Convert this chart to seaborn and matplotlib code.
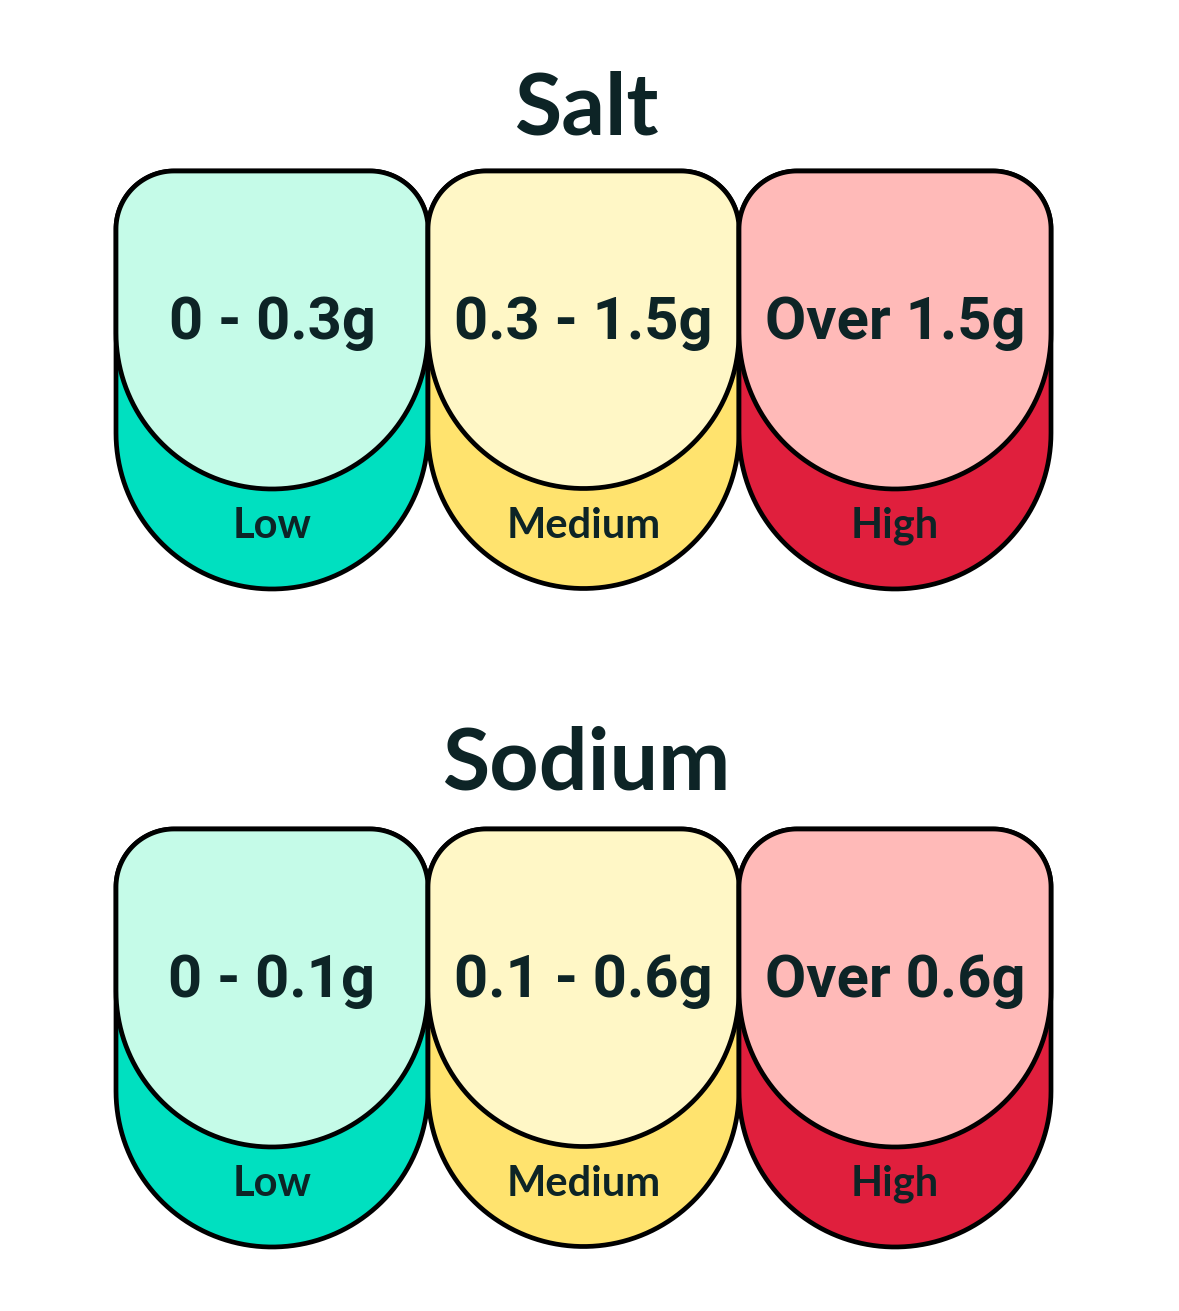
import numpy as np
import matplotlib
matplotlib.use("Agg")
import matplotlib.pyplot as plt
import seaborn as sns
from matplotlib.patches import Polygon

sns.set_theme(style="white")
plt.rcParams['font.family'] = ['Roboto', 'DejaVu Sans']

panels = ["Salt", "Sodium"]
levels = ["Low", "Medium", "High"]
salt_ranges = ["0 - 0.3g", "0.3 - 1.5g", "Over 1.5g"]
sodium_ranges = ["0 - 0.1g", "0.1 - 0.6g", "Over 0.6g"]
dark_colors = ["#00E0C0", "#FFE36E", "#E01F3D"]
light_colors = ["#C5FBE8", "#FFF7C6", "#FFBAB8"]
ink = "#0D2426"

W, H = 1179, 1311
fig = plt.figure(figsize=(W/100, H/100), dpi=100)
ax = fig.add_axes([0, 0, 1, 1])
ax.set_xlim(0, W); ax.set_ylim(H, 0); ax.axis("off")

def shape(x0, x1, top, cy, R=58, n=40):
    pts = []
    t = np.linspace(np.pi, 1.5*np.pi, n)
    pts += list(zip(x0+R+R*np.cos(t), top+R+R*np.sin(t)))
    t = np.linspace(-0.5*np.pi, 0, n)
    pts += list(zip(x1-R+R*np.cos(t), top+R+R*np.sin(t)))
    r = (x1-x0)/2; cx = (x0+x1)/2
    t = np.linspace(0, np.pi, 2*n)
    pts += list(zip(cx+r*np.cos(t), cy+r*np.sin(t)))
    return np.array(pts)

xs = [116, 428, 739, 1051]
layout = [(110, 171, salt_ranges), (765, 829, sodium_ranges)]
for (title_y, top, ranges), name in zip(layout, panels):
    ax.text(W/2-3, title_y, name, ha="center", va="center", fontsize=62,
            fontweight="bold", color=ink, family=['Lato', 'DejaVu Sans'])
    for i in range(3):
        x0, x1 = xs[i], xs[i+1]
        cx = (x0+x1)/2
        ax.add_patch(Polygon(shape(x0, x1, top, top+262), closed=True,
                             fc=dark_colors[i], ec="black", lw=3.4, joinstyle="round"))
        ax.add_patch(Polygon(shape(x0, x1, top, top+162), closed=True,
                             fc=light_colors[i], ec="black", lw=3.4, joinstyle="round"))
        ax.text(cx, top+152, ranges[i], ha="center", va="center", fontsize=43,
                fontweight="bold", color=ink)
        ax.text(cx, top+355, levels[i], ha="center", va="center", fontsize=30,
                fontweight="bold", color=ink, family=['Lato', 'DejaVu Sans'])

fig.savefig("out.png", dpi=100, facecolor="white")
